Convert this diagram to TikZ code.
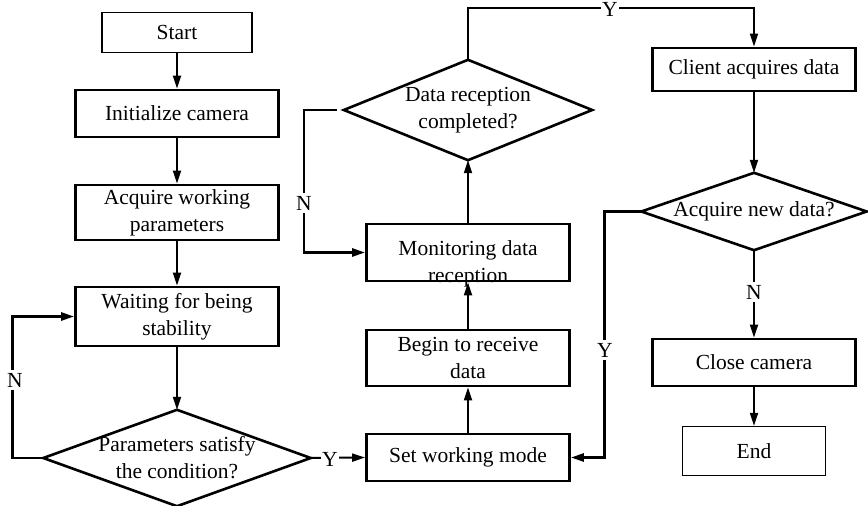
\documentclass[tikz,border=0pt]{standalone}
\usepackage{fontspec}
\setmainfont{Liberation Serif}
\usetikzlibrary{arrows.meta,calc}
\begin{document}
\begin{tikzpicture}[x=1pt,y=-1pt,
  every node/.style={font=\fontsize{21.5}{27}\selectfont},
  box/.style={draw, line width=2.8pt, minimum width=203pt, inner sep=0pt, align=center},
  thinbox/.style={draw, line width=1.3pt, inner sep=0pt, align=center},
  dia/.style={inner sep=0pt, align=center},
  diaedge/.style={line width=2.6pt, line join=miter},
  arr/.style={line width=2pt, -{Triangle[length=13pt,width=8pt]}},
  looparr/.style={line width=2.6pt, -{Triangle[length=13pt,width=8pt]}},
  thinarr/.style={line width=1.6pt, -{Triangle[length=13pt,width=8pt]}},
  lbl/.style={fill=white, inner sep=3pt}]
\path[use as bounding box] (0,0) rectangle (868,506);

% left column
\node[thinbox, minimum width=150pt, minimum height=40pt] (start) at (177,32.5) {Start};
\node[box, minimum height=47pt] (init) at (177,113.5) {Initialize camera};
\node[box, minimum height=55pt] (acq) at (177,212.5) {Acquire working\\parameters};
\node[box, minimum height=59pt] (wait) at (177,316.5) {Waiting for being\\stability};
\node[dia, minimum width=267pt, minimum height=96pt] (d1) at (177,458) {Parameters satisfy\\the condition?};

% middle column
\node[box, minimum height=47pt] (setm) at (468,457.5) {Set working mode};
\node[box, minimum height=56pt] (begin) at (468,358) {Begin to receive\\data};
\node[box, minimum height=57pt] (mon) at (468,252.5) {};
\node[align=center] (mont) at (468,264) {Monitoring data\\reception};
\node[dia, minimum width=248pt, minimum height=100pt] (d2) at (468,110) {Data reception\\completed?};

% right column
\node[box, minimum height=43pt] (client) at (754,69.5) {Client acquires data};
\node[dia, minimum width=225pt, minimum height=77pt] (d3) at (754,211.5) {Acquire new data?};
\node[box, minimum height=47pt] (close) at (754,362.5) {Close camera};
\node[thinbox, minimum width=143pt, minimum height=49pt] (end) at (754,451) {End};

% diamond outlines
\foreach \d in {d1,d2,d3}
  \draw[diaedge] (\d.north) -- (\d.east) -- (\d.south) -- (\d.west) -- cycle;

% connectors
\draw[arr] (start) -- (init);
\draw[arr] (init) -- (acq);
\draw[arr] (acq) -- (wait);
\draw[arr] (wait) -- (d1.north);
\draw[looparr] (d1.west) -- ++(-31,0) |- (wait.west);
\node[lbl] (n1) at (15,380) {N};
\draw[arr] (d1.east) -- (setm.west);
\node[lbl, inner sep=1pt] (y1) at (330,459) {Y};

\draw[arr] (setm) -- (begin);
\draw[arr] (begin) -- (mon);
\draw[arr] (mon) -- (d2.south);
\draw[looparr] ([xshift=-7pt]d2.west) -- ++(-33,0) |- (mon.west);
\node[lbl] (n2) at (304,203) {N};

\draw[thinarr] (d2.north) -- ++(0,-52) -| (client.north);
\node[lbl, inner sep=1pt] (y2) at (610,9.5) {Y};

\draw[arr] (client) -- (d3.north);
\draw[looparr] (d3.west) -- ++(-37,0) |- (setm.east);
\node[lbl] (y3) at (605,350) {Y};
\draw[arr] (d3.south) -- (close);
\node[lbl] (n3) at (754,292) {N};
\draw[arr] (close) -- (end);
\end{tikzpicture}
\end{document}
